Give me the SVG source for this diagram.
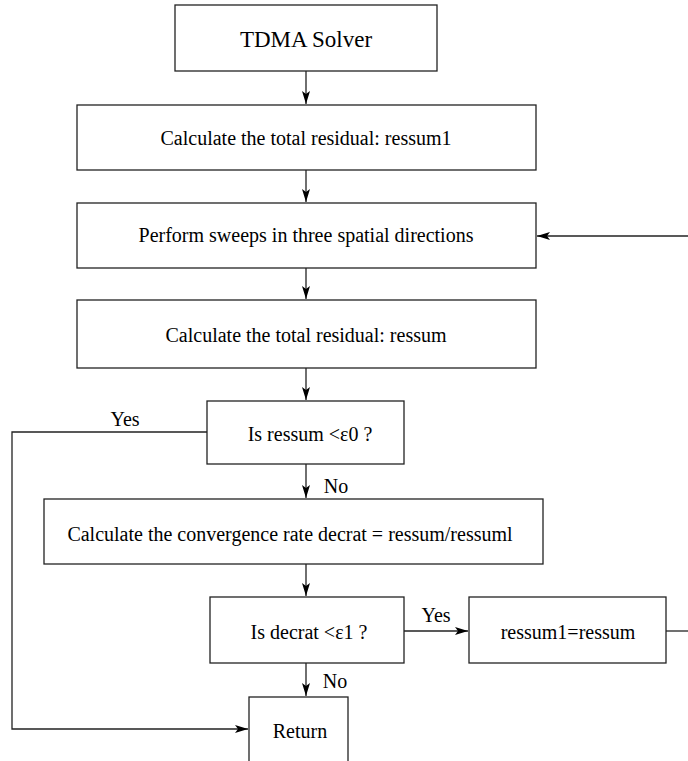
<svg xmlns="http://www.w3.org/2000/svg" width="688" height="761" viewBox="0 0 688 761">
<style>
.b{fill:#fff;stroke:#222;stroke-width:1.3}
.t{font-family:"Liberation Serif","Times New Roman",serif;font-size:20px;fill:#000;text-anchor:middle}
.c{fill:none;stroke:#222;stroke-width:1.3}
</style>
<defs>
<marker id="ah" markerWidth="14" markerHeight="10" refX="13" refY="5" orient="auto" markerUnits="userSpaceOnUse">
<path d="M0,1 L13,5 L0,9 L3,5 Z" fill="#000"/>
</marker>
</defs>
<rect width="688" height="761" fill="#fff"/>
<g id="connectors">
<path class="c" d="M306,71 V104" marker-end="url(#ah)"/>
<path class="c" d="M306,170 V202" marker-end="url(#ah)"/>
<path class="c" d="M306,268 V299" marker-end="url(#ah)"/>
<path class="c" d="M306,368 V400" marker-end="url(#ah)"/>
<path class="c" d="M306,464 V498" marker-end="url(#ah)"/>
<path class="c" d="M306,564 V596" marker-end="url(#ah)"/>
<path class="c" d="M306,663 V696" marker-end="url(#ah)"/>
<path class="c" d="M404,631 H468" marker-end="url(#ah)"/>
<path class="c" d="M666,631 H688"/>
<path class="c" d="M688,236 H537" marker-end="url(#ah)"/>
<path class="c" d="M207,432 H12 V729 H248" marker-end="url(#ah)"/>
<text class="t" x="125" y="426">Yes</text>
<text class="t" x="336" y="493">No</text>
<text class="t" x="436" y="622">Yes</text>
<text class="t" x="335" y="688">No</text>
</g>
<g id="n1"><rect class="b" x="175" y="5" width="262" height="66"/><text class="t" x="306" y="47" style="font-size:23px">TDMA Solver</text></g>
<g id="n2"><rect class="b" x="77" y="105" width="459" height="65"/><text class="t" x="306" y="145">Calculate the total residual: ressum1</text></g>
<g id="n3"><rect class="b" x="77" y="203" width="459" height="65"/><text class="t" x="306" y="242">Perform sweeps in three spatial directions</text></g>
<g id="n4"><rect class="b" x="77" y="300" width="459" height="68"/><text class="t" x="306" y="342">Calculate the total residual: ressum</text></g>
<g id="n5"><rect class="b" x="207" y="401" width="197" height="63"/><text class="t" x="310" y="441">Is ressum &lt;ε0 ?</text></g>
<g id="n6"><rect class="b" x="44" y="499" width="499" height="65"/><text class="t" x="290" y="541">Calculate the convergence rate decrat = ressum/ressuml</text></g>
<g id="n7"><rect class="b" x="210" y="597" width="194" height="66"/><text class="t" x="309" y="639">Is decrat &lt;ε1 ?</text></g>
<g id="n8"><rect class="b" x="469" y="597" width="197" height="66"/><text class="t" x="568" y="639">ressum1=ressum</text></g>
<g id="n9"><rect class="b" x="249" y="697" width="99" height="80"/><text class="t" x="300" y="738">Return</text></g>
</svg>
